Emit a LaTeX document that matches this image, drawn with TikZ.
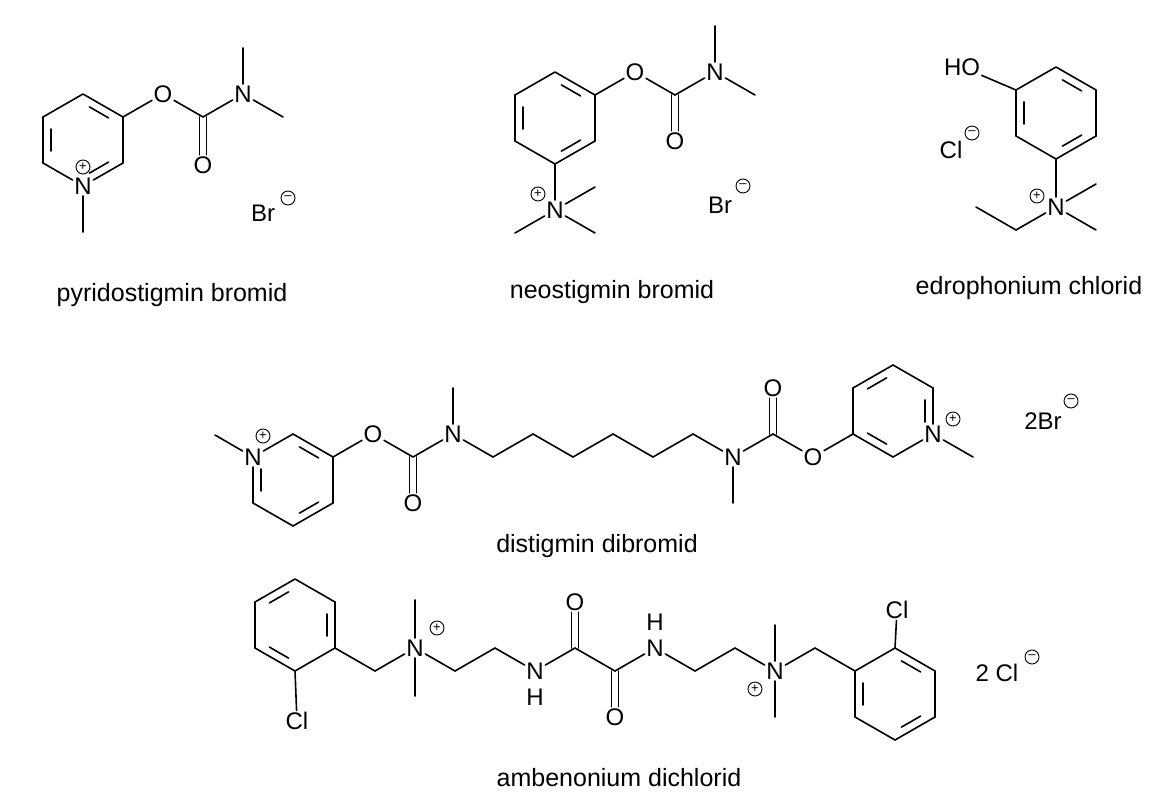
\documentclass[tikz,border=0pt]{standalone}
\usepackage{fontspec}
\setmainfont{Liberation Sans}
\usetikzlibrary{calc}
\tikzset{bond/.style={line width=1.6pt, line cap=round},
  atom/.style={inner sep=1.5pt, font=\fontsize{24}{24}\selectfont},
  chg/.style={circle, draw, line width=0.9pt, inner sep=0pt, minimum size=14pt, font=\fontsize{13}{13}\selectfont},
  title/.style={font=\fontsize{25}{25}\selectfont}}
% inner line of a ring double bond: ends #1 and #2, ring centre #3
\newcommand\dbond[3]{\draw[bond] ($ ($(#1)!0.2!(#2)$)!0.2!(#3) $) -- ($ ($(#1)!0.8!(#2)$)!0.2!(#3) $);}
% C=O drawn as two vertical strokes
\newcommand\codbl[3]{\draw[bond] ([xshift=-3.5pt]#1) -- ([xshift=-3.5pt]#2.#3);
  \draw[bond] ([xshift=3.5pt]#1) -- ([xshift=3.5pt]#2.#3);}
\begin{document}
\begin{tikzpicture}[x=1pt, y=-1pt]
\useasboundingbox (0,0) rectangle (1167,800);
% pyridostigmin bromid
\coordinate (p1) at (83,94); \coordinate (p2) at (123,117); \coordinate (p3) at (123,163);
\node[atom] (pN) at (83,186) {N}; \coordinate (p5) at (43,163); \coordinate (p6) at (43,117);
\coordinate (pc) at (83,140);
\draw[bond] (p1) -- (p2) -- (p3) -- (pN) -- (p5) -- (p6) -- (p1);
\dbond{p1}{p2}{pc} \dbond{p6}{p5}{pc} \dbond{p3}{pN}{pc}
\draw[bond] (pN) -- (83,232);
\node[chg] at (83,167) {+};
\node[atom] (pO) at (163,94) {O}; \coordinate (pC) at (203,117);
\node[atom] (pO2) at (203,165) {O}; \node[atom] (pNm) at (243,94) {N};
\draw[bond] (p2) -- (pO) -- (pC) -- (pNm);
\codbl{pC}{pO2}{north}
\draw[bond] (pNm) -- (243,48); \draw[bond] (pNm) -- (283,117);
\node[atom] (pBr) at (263,213) {Br}; \node[chg] at (288,198) {–};
\node[title] (pname) at (172,295) {pyridostigmin bromid};
% neostigmin bromid
\coordinate (n1) at (555,72); \coordinate (n2) at (595,95); \coordinate (n3) at (595,141);
\coordinate (n4) at (555,164); \coordinate (n5) at (515,141); \coordinate (n6) at (515,95);
\coordinate (nc) at (555,118);
\draw[bond] (n1) -- (n2) -- (n3) -- (n4) -- (n5) -- (n6) -- (n1);
\dbond{n1}{n2}{nc} \dbond{n6}{n5}{nc} \dbond{n3}{n4}{nc}
\node[atom] (nO) at (635,72) {O}; \coordinate (nC) at (675,95);
\node[atom] (nO2) at (675,141) {O}; \node[atom] (nNm) at (715,72) {N};
\draw[bond] (n2) -- (nO) -- (nC) -- (nNm);
\codbl{nC}{nO2}{north}
\draw[bond] (nNm) -- (715,26); \draw[bond] (nNm) -- (755,95);
\node[atom] (nNq) at (555,210) {N};
\draw[bond] (n4) -- (nNq);
\draw[bond] (nNq) -- (595,187); \draw[bond] (nNq) -- (595,233); \draw[bond] (nNq) -- (515,233);
\node[chg] at (538,194) {+};
\node[atom] (nBr) at (720,205) {Br}; \node[chg] at (743,186) {–};
\node[title] (nname) at (612,292) {neostigmin bromid};
% edrophonium chlorid
\coordinate (e1) at (1056,67); \coordinate (e2) at (1096,90); \coordinate (e3) at (1096,136);
\coordinate (e4) at (1056,159); \coordinate (e5) at (1016,136); \coordinate (e6) at (1016,90);
\coordinate (ec) at (1056,113);
\draw[bond] (e1) -- (e2) -- (e3) -- (e4) -- (e5) -- (e6) -- (e1);
\dbond{e1}{e2}{ec} \dbond{e6}{e5}{ec} \dbond{e3}{e4}{ec}
\node[atom] (eHO) at (962,67) {HO};
\draw[bond] (e6) -- (eHO);
\node[atom] (eN) at (1056,207) {N};
\draw[bond] (e4) -- (eN);
\draw[bond] (eN) -- (1096,184); \draw[bond] (eN) -- (1096,230);
\draw[bond] (eN) -- (1016,230) -- (976,207);
\node[chg] at (1037,196) {+};
\node[atom] (eCl) at (951,150) {Cl}; \node[chg] at (972,133) {–};
\node[title] (ename) at (1029,288) {edrophonium chlorid};
% distigmin dibromid
\node[atom] (dN1) at (253,457) {N}; \coordinate (d2) at (293,434); \coordinate (d3) at (333,457);
\coordinate (d4) at (333,503); \coordinate (d5) at (293,526); \coordinate (d6) at (253,503);
\coordinate (dc) at (293,480);
\draw[bond] (dN1) -- (d2) -- (d3) -- (d4) -- (d5) -- (d6) -- (dN1);
\dbond{d2}{d3}{dc} \dbond{d4}{d5}{dc} \dbond{d6}{dN1}{dc}
\draw[bond] (dN1) -- (215,435);
\node[chg] at (263,436) {+};
\node[atom] (dO1) at (373,434) {O}; \coordinate (dC1) at (413,457);
\node[atom] (dO2) at (413,503) {O}; \node[atom] (dN2) at (453,434) {N};
\draw[bond] (d3) -- (dO1) -- (dC1) -- (dN2);
\codbl{dC1}{dO2}{north}
\draw[bond] (dN2) -- (453,388);
\node[atom] (dN3) at (733,457) {N};
\draw[bond] (dN2) -- (493,457) -- (533,434) -- (573,457) -- (613,434) -- (653,457) -- (693,434) -- (dN3);
\draw[bond] (dN3) -- (733,503);
\coordinate (dC2) at (773,434); \node[atom] (dO3) at (773,388) {O};
\node[atom] (dO4) at (813,457) {O};
\codbl{dC2}{dO3}{south}
\coordinate (r1) at (853,434); \coordinate (r2) at (893,457); \node[atom] (rN) at (933,434) {N};
\coordinate (r4) at (933,388); \coordinate (r5) at (893,365); \coordinate (r6) at (853,388);
\coordinate (rc) at (893,411);
\draw[bond] (dN3) -- (dC2) -- (dO4) -- (r1);
\draw[bond] (r1) -- (r2) -- (rN) -- (r4) -- (r5) -- (r6) -- (r1);
\dbond{r6}{r5}{rc} \dbond{r4}{rN}{rc} \dbond{r1}{r2}{rc}
\draw[bond] (rN) -- (973,457);
\node[chg] at (953,419) {+};
\node[atom] (dBr) at (1043,421) {2Br}; \node[chg] at (1071,401) {–};
\node[title] (dname) at (597,546) {distigmin dibromid};
% ambenonium dichlorid
\coordinate (a1) at (295,579); \coordinate (a2) at (335,602); \coordinate (a3) at (335,648);
\coordinate (a4) at (295,671); \coordinate (a5) at (255,648); \coordinate (a6) at (255,602);
\coordinate (ac) at (295,625);
\draw[bond] (a1) -- (a2) -- (a3) -- (a4) -- (a5) -- (a6) -- (a1);
\dbond{a6}{a1}{ac} \dbond{a2}{a3}{ac} \dbond{a5}{a4}{ac}
\node[atom] (aCl1) at (297,721) {Cl};
\draw[bond] (a4) -- (aCl1);
\node[atom] (aN1) at (415,648) {N};
\draw[bond] (a3) -- (375,671) -- (aN1);
\draw[bond] (aN1) -- (415,600); \draw[bond] (aN1) -- (415,696);
\node[chg] at (437,628) {+};
\node[atom] (aNH1) at (535,671) {N}; \node[atom] (aH1) at (535,697) {H};
\draw[bond] (aN1) -- (455,671) -- (495,648) -- (aNH1);
\coordinate (aC1) at (575,648); \node[atom] (aO1) at (575,602) {O};
\coordinate (aC2) at (615,671); \node[atom] (aO2) at (615,717) {O};
\node[atom] (aNH2) at (655,648) {N}; \node[atom] (aH2) at (655,622) {H};
\draw[bond] (aNH1) -- (aC1) -- (aC2) -- (aNH2);
\codbl{aC1}{aO1}{south} \codbl{aC2}{aO2}{north}
\node[atom] (aN2) at (775,671) {N};
\draw[bond] (aNH2) -- (695,671) -- (735,648) -- (aN2);
\draw[bond] (aN2) -- (775,625); \draw[bond] (aN2) -- (775,717);
\node[chg] at (755,689) {+};
\coordinate (b1) at (855,671); \coordinate (b2) at (895,648); \coordinate (b3) at (935,671);
\coordinate (b4) at (935,717); \coordinate (b5) at (895,740); \coordinate (b6) at (855,717);
\coordinate (bc) at (895,694);
\draw[bond] (aN2) -- (815,648) -- (b1);
\draw[bond] (b1) -- (b2) -- (b3) -- (b4) -- (b5) -- (b6) -- (b1);
\dbond{b2}{b3}{bc} \dbond{b4}{b5}{bc} \dbond{b6}{b1}{bc}
\node[atom] (aCl2) at (897,610) {Cl};
\draw[bond] (b2) -- (aCl2);
\node[atom] (aCl) at (997,673) {2 Cl}; \node[chg] at (1032,657) {–};
\node[title] (aname) at (619,778) {ambenonium dichlorid};
\end{tikzpicture}
\end{document}
